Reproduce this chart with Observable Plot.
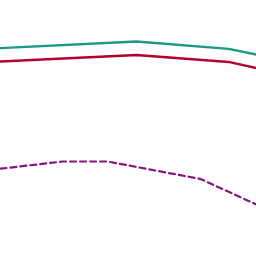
<!DOCTYPE html>
<html>
<head>
<meta charset="utf-8">
<script src="https://cdn.jsdelivr.net/npm/d3@7"></script>
<script src="https://cdn.jsdelivr.net/npm/@observablehq/plot@0.6"></script>
<style>
  html, body { margin: 0; padding: 0; background: #fff; }
  #chart svg { display: block; }
</style>
</head>
<body>
<div id="chart"></div>
<script>
// Series values (x on a 0–100 scale, y on a 0–100 scale)
const tealX = [0, 53.1, 89.1, 100];
const tealY = [81.4, 84.0, 81.1, 78.9];
const redX = [0, 53.1, 89.1, 100];
const redY = [76.2, 78.7, 76.0, 73.6];
const purpleX = [0, 24.2, 41.8, 78.1, 100];
const purpleY = [34.3, 37.1, 37.1, 30.3, 20.3];

const toRows = (xs, ys) => xs.map((x, i) => ({x, y: ys[i]}));

const chart = Plot.plot({
  width: 256,
  height: 256,
  margin: 0,
  x: {domain: [0, 100], axis: null},
  y: {domain: [0, 100], axis: null},
  marks: [
    Plot.line(toRows(tealX, tealY), {x: "x", y: "y", stroke: "#1a9985", strokeWidth: 2.4}),
    Plot.line(toRows(redX, redY), {x: "x", y: "y", stroke: "#b2002b", strokeWidth: 2.4}),
    Plot.line(toRows(purpleX, purpleY), {x: "x", y: "y", stroke: "#88157d", strokeWidth: 2.2, strokeDasharray: "6,4"})
  ]
});
document.getElementById("chart").appendChild(chart);
</script>
</body>
</html>
